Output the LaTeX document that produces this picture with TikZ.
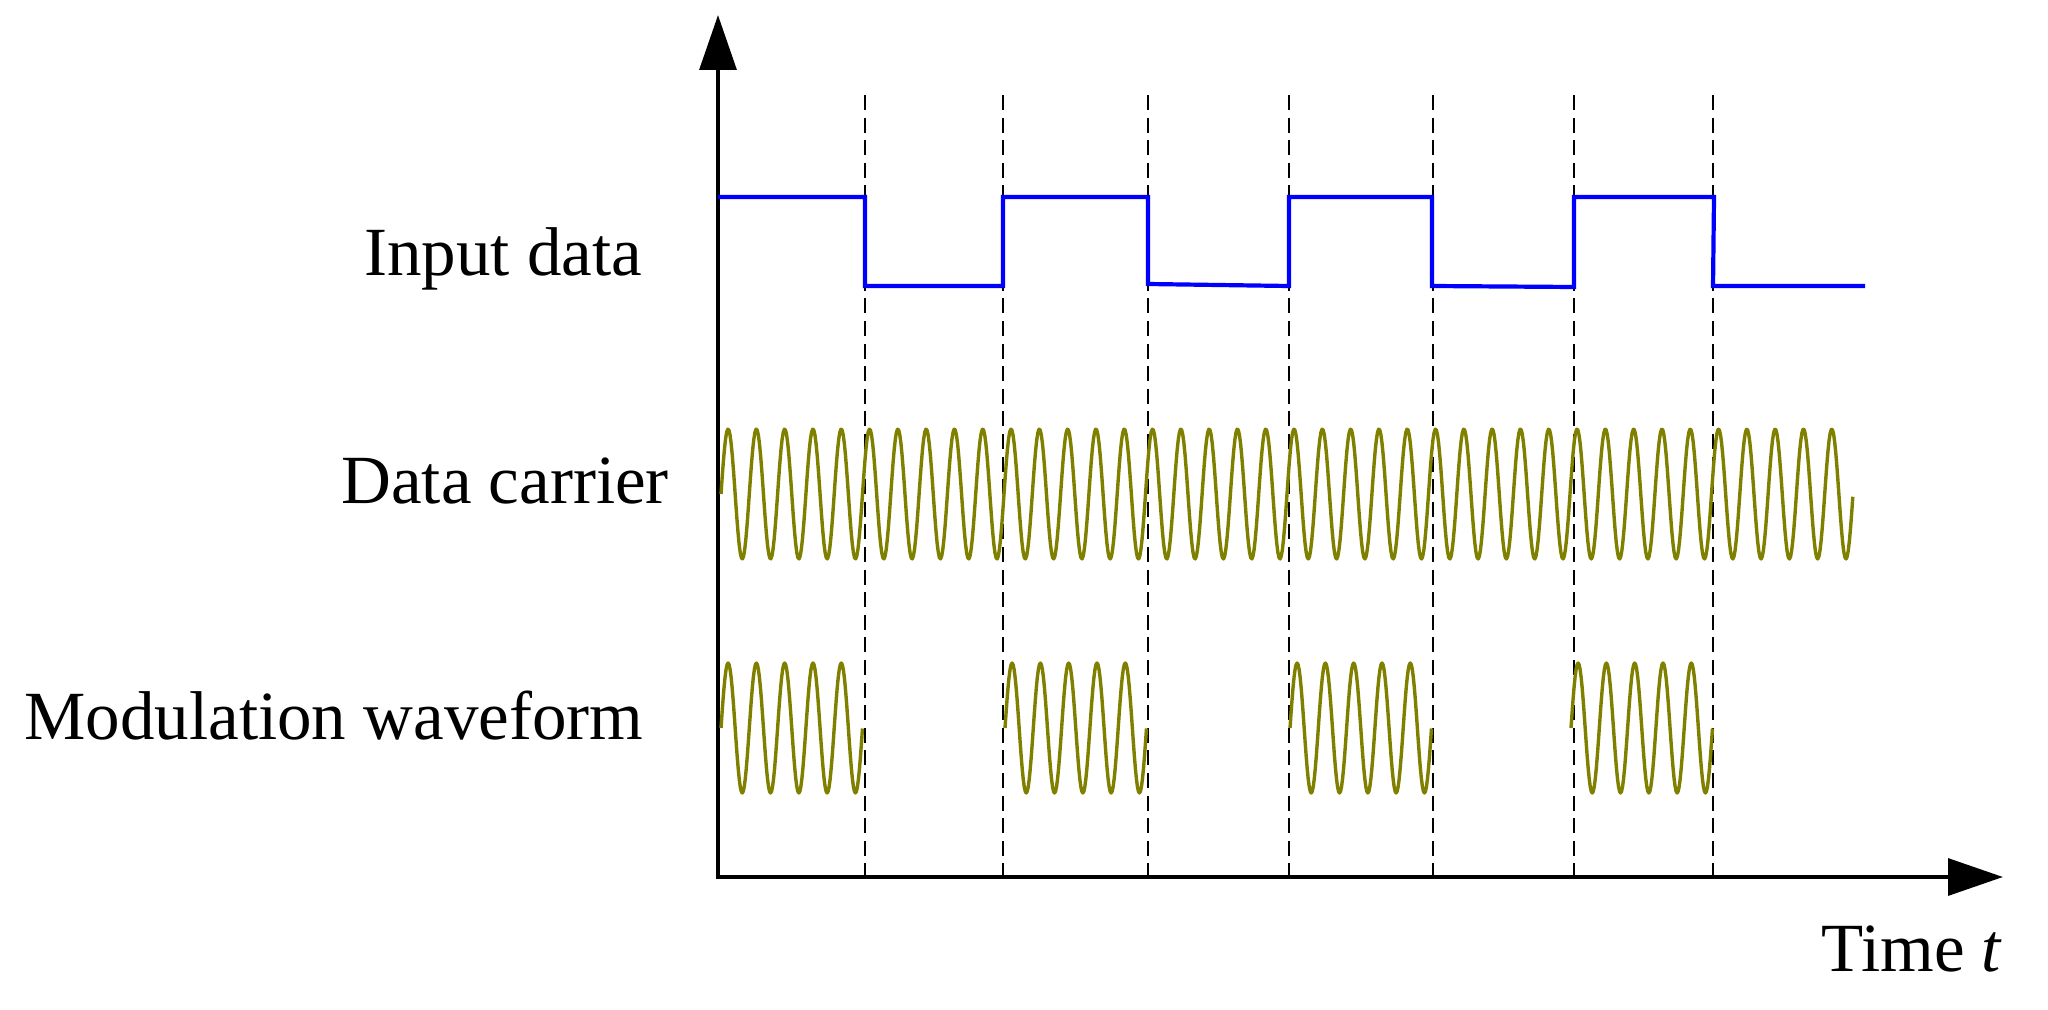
\documentclass[tikz,border=0pt]{standalone}
\usepackage{fontspec}
\setmainfont{Liberation Serif}
\usetikzlibrary{arrows.meta}
\definecolor{carrierolive}{RGB}{128,128,0}
\definecolor{datablue}{RGB}{0,0,255}
\begin{document}
\begin{tikzpicture}[x=0.5pt,y=-0.5pt,
  axisline/.style={line width=2.3pt,-{Triangle[length=27.5pt,width=18.3pt]}},
  gridline/.style={line width=1.4pt,dash pattern=on 7.5pt off 3.8pt},
  databit/.style={line width=2.1pt,datablue,line join=miter},
  wave/.style={line width=1.7pt,carrierolive,line join=round},
  lbl/.style={font=\fontsize{34.5pt}{40pt}\selectfont,inner sep=0pt,anchor=base west}]
\useasboundingbox (0,0) rectangle (2048,1010);
% axes
\coordinate (O) at (718,877);
\coordinate (Ostart) at (718,879.3);
\coordinate (Xstart) at (715.7,877);
\coordinate (Ytip) at (718,15);
\coordinate (Xtip) at (2003,877);
\draw[axisline] (Ostart) -- (Ytip);
\draw[axisline] (Xstart) -- (Xtip);
% dashed bit boundaries
\foreach \xx [count=\i] in {865,1003,1148,1289,1433,1574,1713}{
  \coordinate (dtop\i) at (\xx,95);
  \coordinate (dbot\i) at (\xx,877);
  \draw[gridline] (dtop\i) -- (dbot\i);
}
% input data
\draw[databit] (718,197) -- (865,197) -- (865,286) -- (1003,286) -- (1003,197)
  -- (1148,197) -- (1148,284) -- (1289,286) -- (1289,197) -- (1432,197)
  -- (1432,286) -- (1574,287) -- (1574,197) -- (1714,197) -- (1713,286) -- (1865,286);
% carrier (40 periods)
\draw[wave] plot[variable=\t,domain=0:40,samples=1001] ({721+28.3*\t},{494-65*sin(360*\t)});
% modulation waveform (5 periods per high bit)
\foreach \s in {721,1005,1290,1571}{
  \draw[wave] plot[variable=\t,domain=0:5,samples=141] ({\s+28.3*\t},{728-65*sin(360*\t)});
}
% labels
\node[lbl] (linput) at (364,276) {Input data};
\node[lbl] (lcarrier) at (341,503) {Data carrier};
\node[lbl] (lmod) at (24,739) {Modulation waveform};
\node[lbl] (ltime) at (1821,971) {Time \textit{t}};
\end{tikzpicture}
\end{document}
